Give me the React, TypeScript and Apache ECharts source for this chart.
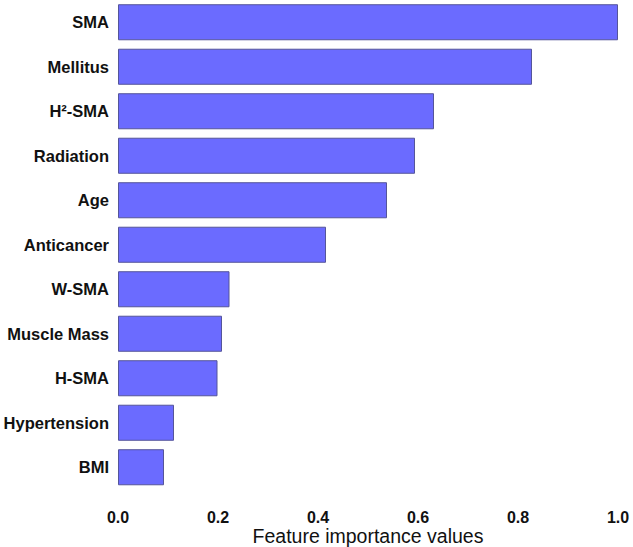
import React, { useEffect, useRef } from "react";
import * as echarts from "echarts";

const categories = [
  "SMA",
  "Mellitus",
  "H²-SMA",
  "Radiation",
  "Age",
  "Anticancer",
  "W-SMA",
  "Muscle Mass",
  "H-SMA",
  "Hypertension",
  "BMI",
];
const importance = [1.0, 0.828, 0.632, 0.594, 0.538, 0.416, 0.223, 0.208, 0.199, 0.112, 0.092];
const xTicks = [0, 0.2, 0.4, 0.6, 0.8, 1.0];

export default function App() {
  const ref = useRef<HTMLDivElement>(null);
  useEffect(() => {
    if (!ref.current) return;
    const chart = echarts.init(ref.current, null, { renderer: "svg" });
    chart.setOption({
      animation: false,
      grid: {
        left: 118,
        right: 15,
        top: 0,
        bottom: 57.5,
        containLabel: false,
        outerBoundsMode: "none",
      },
      xAxis: {
        type: "value",
        min: xTicks[0],
        max: xTicks[xTicks.length - 1],
        interval: 0.2,
        name: "Feature importance values",
        nameLocation: "middle",
        nameGap: 36,
        nameMoveOverlap: false,
        nameTextStyle: { fontFamily: "Liberation Sans", fontSize: 19.5, color: "#111" },
        axisLine: { show: false },
        axisTick: { show: false },
        splitLine: { show: false },
        axisLabel: {
          margin: 20,
          fontFamily: "Liberation Sans",
          fontWeight: "bold",
          fontSize: 16,
          color: "#111",
          formatter: (v: number) => v.toFixed(1),
        },
      },
      yAxis: {
        type: "category",
        data: categories,
        inverse: true,
        axisLine: { show: false },
        axisTick: { show: false },
        splitLine: { show: false },
        axisLabel: {
          margin: 9,
          fontFamily: "Liberation Sans",
          fontWeight: "bold",
          fontSize: 16.5,
          color: "#111",
        },
      },
      series: [
        {
          type: "bar",
          data: importance,
          barCategoryGap: "19%",
          itemStyle: { color: "#6B6BFF", borderColor: "#55559A", borderWidth: 1 },
        },
      ],
    });
    return () => chart.dispose();
  }, []);
  return <div ref={ref} style={{ width: 633, height: 547, position: "absolute", left: 0, top: 0 }} />;
}
